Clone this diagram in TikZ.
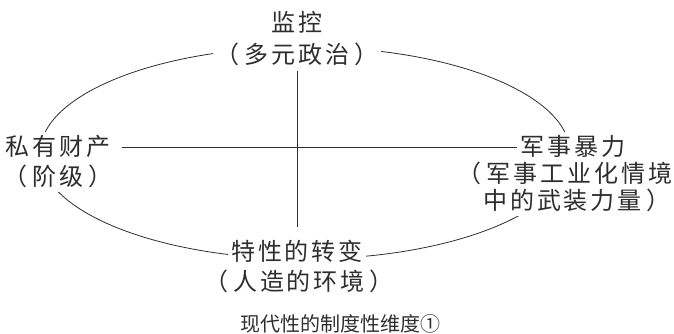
\documentclass[tikz,border=0pt]{standalone}
\usepackage{fontspec}
\usetikzlibrary{positioning}
\newfontfamily\cjk[LetterSpace=12]{Noto Sans CJK SC}
\newfontfamily\cjkcap{Noto Sans CJK SC}
\definecolor{ink}{gray}{0.18}
\newcommand\lpar{（\kern5pt}
\newcommand\rpar{\kern5pt）}

\begin{document}
\begin{tikzpicture}[x=1pt,y=-1pt,
    lbl/.style={fill=white,inner xsep=3pt,inner ysep=3pt,text height=20.5pt,text depth=3.5pt,
      font=\cjk\fontsize{24}{28}\selectfont,text=ink},
    rim/.style={draw=ink,line width=0.8pt}]
    \useasboundingbox (0,0) rectangle (674,333);
    \draw[rim] (305,153) ellipse [x radius=265pt,y radius=106pt];
    \node[lbl] (watch) at (297,23) {监控};
    \node[lbl,below=2pt of watch] (watchsub) {\lpar 多元政治\rpar};
    \node[lbl] (prop) at (58,147) {私有财产};
    \node[lbl,below=0pt of prop] (propsub) {\lpar 阶级\rpar};
    \node[lbl] (force) at (573,147) {军事暴力};
    \node[lbl,below=-3pt of force,xshift=-8pt] (forcesub) {\lpar 军事工业化情境};
    \node[lbl,below=-4pt of forcesub,xshift=12pt] (forcesubb) {中的武装力量\rpar};
    \node[lbl] (trans) at (297,252) {特性的转变};
    \node[lbl,below=0pt of trans,xshift=2pt] (transsub) {\lpar 人造的环境\rpar};
    \draw[rim,shorten <=8pt] (prop.east) -- (force.west);
    \draw[rim,shorten >=10pt] (watchsub.south) -- (trans.north);
    \node[font=\cjkcap\fontsize{20}{24}\selectfont,text=ink] (caption) at (340,324) {现代性的制度性维度①};
\end{tikzpicture}
\end{document}
